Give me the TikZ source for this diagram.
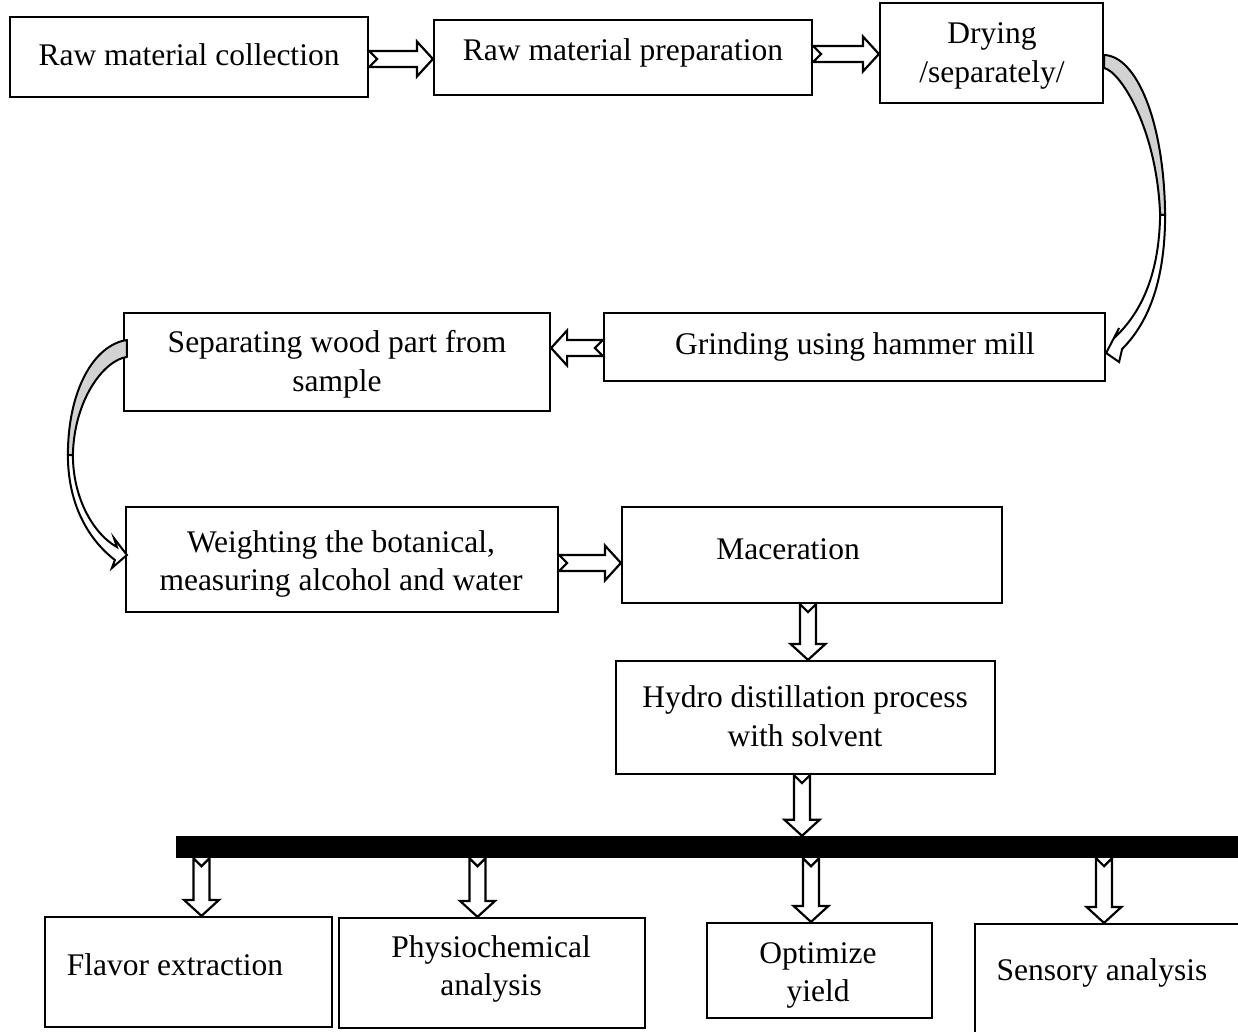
\documentclass[tikz,border=0pt]{standalone}
\usepackage{fontspec}
\setmainfont{Liberation Serif}
\usetikzlibrary{calc}
\newcommand\blockarrow[2]{%
  \draw[blk] let \p1=#1, \p2=#2,
     \n1={veclen(\x2-\x1,\y2-\y1)}, \n2={atan2(\y2-\y1,\x2-\x1)} in
   ($(\p1)+(\n2+90:8pt)$)
   -- ($(\p1)+(\n2:\n1-16pt)+(\n2+90:8pt)$)
   -- ($(\p1)+(\n2:\n1-16pt)+(\n2+90:17.5pt)$)
   -- (\p2)
   -- ($(\p1)+(\n2:\n1-16pt)+(\n2-90:17.5pt)$)
   -- ($(\p1)+(\n2:\n1-16pt)+(\n2-90:8pt)$)
   -- ($(\p1)+(\n2-90:8pt)$)
   -- ($(\p1)+(\n2:8pt)$)
   -- cycle;}
\begin{document}
\begin{tikzpicture}[x=1pt,y=-1pt,
  box/.style={draw, line width=2.2pt, inner sep=0pt},
  txt/.style={align=center, font=\fontsize{31.5}{38.5}\selectfont, inner sep=0pt},
  blk/.style={draw, fill=white, line width=2.2pt, line join=miter},
  crvgrey/.style={draw, fill=gray!35, line width=2pt, line join=round},
  crvwhite/.style={draw, fill=white, line width=2pt, line join=miter}]
\useasboundingbox (0,0) rectangle (1238,1032);

% boxes
\node[box, minimum width=358pt, minimum height=80pt]  (coll)  at (189,57) {};
\node[box, minimum width=378pt, minimum height=75pt]  (prep)  at (623,57.5) {};
\node[box, minimum width=223pt, minimum height=100pt] (dry)   at (991.5,53) {};
\node[box, minimum width=501pt, minimum height=68pt]  (grind) at (854.5,347) {};
\node[box, minimum width=426pt, minimum height=98pt]  (sep)   at (337,362) {};
\node[box, minimum width=432pt, minimum height=105pt] (weigh) at (342,559.5) {};
\node[box, minimum width=380pt, minimum height=96pt]  (mac)   at (812,555) {};
\node[box, minimum width=379pt, minimum height=113pt] (hyd)   at (805.5,717.5) {};
\node[fill=black, inner sep=0pt, minimum width=1070pt, minimum height=22pt] (bar) at (711,847) {};
\node[box, minimum width=287pt, minimum height=110pt] (flav)  at (188.5,972) {};
\node[box, minimum width=306pt, minimum height=110pt] (phys)  at (492,973) {};
\node[box, minimum width=225pt, minimum height=95pt]  (opt)   at (819.5,970.5) {};
\node[box, minimum width=270pt, minimum height=121pt] (sens)  at (1110,984.5) {};

% texts
\node[txt] (tcoll)  at (189,54.5) {Raw material collection};
\node[txt] (tprep)  at (623,52.5) {Raw material preparation};
\node[txt] (tdry)   at (992,56) {Drying\\/separately/};
\node[txt] (tgrind) at (855,346.5) {Grinding using hammer mill};
\node[txt] (tsep)   at (337,364.5) {Separating wood part from\\sample};
\node[txt] (tweigh) at (341,564) {Weighting the botanical,\\measuring alcohol and water};
\node[txt] (tmac)   at (788,549.5) {Maceration};
\node[txt] (thyd)   at (805,716) {Hydro distillation process\\with solvent};
\node[txt] (tflav)  at (175,964.5) {Flavor extraction};
\node[txt] (tphys)  at (491,969) {Physiochemical\\analysis};
\node[txt] (topt)   at (818,975.5) {Optimize\\yield};
\node[txt] (tsens)  at (1102,972.5) {Sensory analysis};

% straight block arrows
\blockarrow{($(coll.east)+(0,2)$)}{($(prep.west)+(0,1.5)$)}
\blockarrow{($(prep.east)+(0,-3.5)$)}{($(dry.west)+(0,1)$)}
\blockarrow{($(grind.west)+(0,1)$)}{($(sep.east)+(0,-14)$)}
\blockarrow{($(weigh.east)+(0,3.5)$)}{($(mac.west)+(0,8)$)}
\coordinate (v1) at ($(mac.south)+(-4,0)$);
\blockarrow{(v1)}{(v1 |- hyd.north)}
\coordinate (v2) at ($(hyd.south)+(-3.5,0)$);
\blockarrow{(v2)}{(v2 |- bar.north)}
\coordinate (b1) at ($(flav.north)+(13,0)$);
\coordinate (b2) at ($(phys.north)+(-14.5,0)$);
\coordinate (b3) at ($(opt.north)+(-8.5,0)$);
\coordinate (b4) at ($(sens.north)+(-6,0)$);
\blockarrow{(b1 |- bar.south)}{(b1)}
\blockarrow{(b2 |- bar.south)}{(b2)}
\blockarrow{(b3 |- bar.south)}{(b3)}
\blockarrow{(b4 |- bar.south)}{(b4)}

% curved arrow: drying -> grinding
\draw[crvgrey] ($(dry.east)+(0,2)$) .. controls +(32,1) and +(-1,-95) .. ($(dry.east)+(61,162)$)
   -- ($(dry.east)+(56,162)$) .. controls +(-3,-85) and +(17,4) .. ($(dry.east)+(0,15)$) -- cycle;
\draw[crvwhite] ($(dry.east)+(61,162)$) .. controls +(0,70) and +(24,-24) .. ($(grind.east)+(16,2)$)
   -- ($(grind.east)+(13,15)$) -- ($(grind.east)+(0,6)$) -- ($(grind.east)+(13,-19)$)
   -- ($(grind.east)+(8,-9)$) .. controls +(25,-23) and +(-1,63) .. ($(dry.east)+(56,162)$) -- cycle;

% curved arrow: separating -> weighting
\draw[crvgrey] ($(sep.west)+(4,-22)$) .. controls +(-33,5) and +(0,-65) .. ($(sep.west)+(-55,93)$)
   -- ($(sep.west)+(-50,93)$) .. controls +(1,-55) and +(-23,3) .. ($(sep.west)+(4,-5)$) -- cycle;
\draw[crvwhite] ($(sep.west)+(-55,93)$) .. controls +(0,50) and +(-26,-20) .. ($(weigh.west)+(-10,0.5)$)
   -- ($(weigh.west)+(-13,8.5)$) -- ($(weigh.west)+(2,-4.5)$) -- ($(weigh.west)+(-11,-21.5)$)
   -- ($(weigh.west)+(-8,-12.5)$) .. controls +(-22,-12) and +(0,45) .. ($(sep.west)+(-50,93)$) -- cycle;
\end{tikzpicture}
\end{document}
